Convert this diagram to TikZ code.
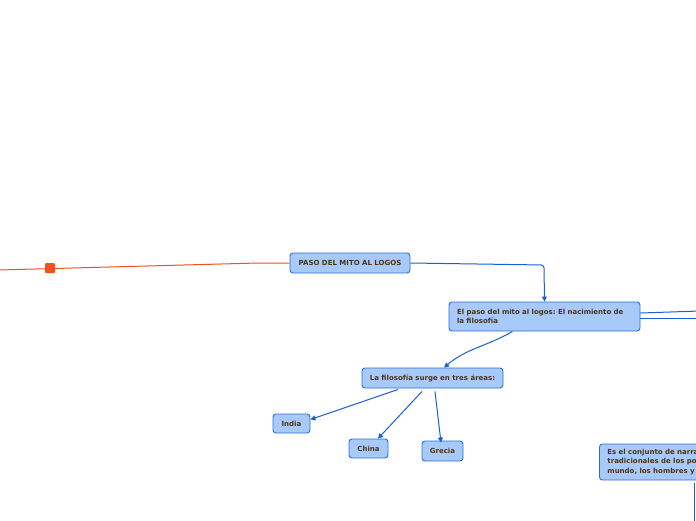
\documentclass[tikz,border=0pt]{standalone}
\usepackage{fontspec}
\newfontfamily\mapfont{DejaVu Sans}
\usepackage{xcolor}
\usetikzlibrary{calc,positioning,arrows.meta}

\definecolor{boxfill}{HTML}{A7CAFB}
\definecolor{boxline}{HTML}{2C6FD8}
\definecolor{boxtext}{HTML}{4E3412}
\definecolor{linkblue}{HTML}{1A60D2}
\definecolor{linkorange}{HTML}{F0521F}

\frenchspacing
\begin{document}
\begin{tikzpicture}[x=1pt, y=-1pt,
    topic/.style={draw=boxline, fill=boxfill, line width=0.9pt, rounded corners=3pt,
      text=boxtext, font=\mapfont\bfseries\fontsize{7}{9.5}\selectfont, inner sep=0pt},
    link/.style={draw=linkblue, line width=1pt, -{Triangle[length=5pt,width=5pt]}},
    plain/.style={draw=linkblue, line width=1pt}]
  \useasboundingbox[fill=white] (0,0) rectangle (696,520);
  % --- central node ---
  \node[topic, minimum width=120pt, minimum height=20pt] (paso) at (350,263) {PASO DEL MITO AL LOGOS};
  \coordinate (lend) at (-2,270);
  \coordinate (lbend) at (258,263);
  \draw[linkorange, line width=1pt] (paso.west) -- (lbend) -- (lend);
  \node[fill=linkorange, rounded corners=1pt, minimum size=10pt, inner sep=0pt] (sq) at (50,268) {};
  % --- nacimiento de la filosofia ---
  \node[topic, minimum width=191pt, minimum height=29pt, text width=175pt, align=left] (nac) at (544.5,316.5)
    {El paso del mito al logos: El nacimiento de\\la filosofía};
  \coordinate (c1) at (544,265);
  \draw[link, rounded corners=3pt] (paso.east) -- (c1) -- (nac.north);
  \coordinate (r1) at (700,311);
  \coordinate (r2) at (700,318);
  \draw[plain] ([yshift=3.5pt]nac.east) -- (r1);
  \draw[plain] ([yshift=-1.5pt]nac.east) -- (r2);
  % --- tres areas ---
  \node[topic, minimum width=141pt, minimum height=20pt] (areas) at (432.5,378) {La filosofía surge en tres áreas:};
  \draw[link] ([xshift=-32pt]nac.south) to[out=-150,in=40] ([xshift=11.5pt]areas.north);
  \node[topic, minimum width=37pt, minimum height=19pt] (india) at (291.5,423.5) {India};
  \node[topic, minimum width=39pt, minimum height=19pt] (china) at (368.5,448.5) {China};
  \node[topic, minimum width=41pt, minimum height=20pt] (grecia) at (442.5,451) {Grecia};
  \draw[link] ([xshift=-34.5pt,yshift=-1pt]areas.south) -- ([yshift=4pt]india.east);
  \draw[link] ([xshift=-10.5pt,yshift=-3pt]areas.south) -- ([xshift=9.5pt]china.north);
  \draw[link] ([xshift=2.5pt,yshift=-3pt]areas.south) -- ([xshift=-1.5pt,yshift=-2pt]grecia.north);
  % --- mito ---
  \node[topic, anchor=west, minimum width=180pt, minimum height=36pt, text width=164pt, align=left] (mito) at (599,462)
    {Es el conjunto de narra\\tradicionales de los po\\mundo, los hombres y};
  \coordinate (bend) at (694,524);
  \draw[plain] ([xshift=95pt,yshift=-3pt]mito.south west) -- (bend);
\end{tikzpicture}
\end{document}
